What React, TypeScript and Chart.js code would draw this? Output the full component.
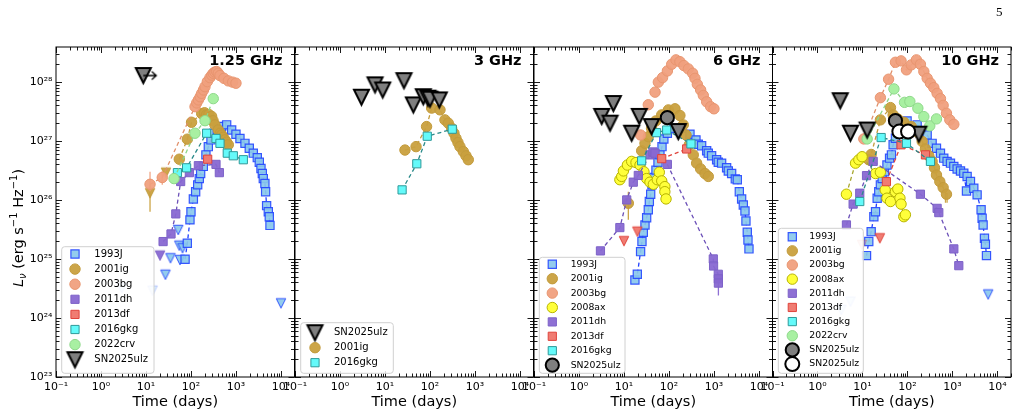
import React, { useEffect, useRef } from 'react';
import { Chart, registerables } from 'chart.js';

Chart.register(...registerables);

type P = [number, number];
type E = [number, number, number]; // time, lower, upper

// ================= DATA (time in days, L_nu in erg/s/Hz) =================
// ---- 1.25 GHz ----
const f125_1993J: P[] = [[74,9.9e24],[83,1.84e25],[95,4.6e25],[100,6.3e25],[113,1.04e26],[127,1.38e26],[141,1.8e26],[153,2.3e26],[164,2.8e26],[188,3.7e26],[215,5.8e26],[243,8.0e26],[278,1.04e27],[324,1.35e27],[385,1.53e27],[480,1.75e27],[621,1.87e27],[802,1.53e27],[1000,1.3e27],[1227,1.1e27],[1585,9.1e26],[1977,7.5e26],[2427,6.2e26],[2978,5.2e26],[3300,4.35e26],[3597,3.4e26],[3850,2.8e26],[4050,2.3e26],[4400,1.9e26],[4560,1.38e26],[4800,8.0e25],[5230,6.3e25],[5500,5.2e25],[5700,3.7e25]];
const f125_1993J_ul: P[] = [[52,3.1e25],[55,1.68e25],[65,1.52e25],[35,1.03e25],[57,9.6e24],[27,5.4e24],[10000,1.77e24]];
const f125_1993J_ulFaded: P[] = [[2.9,3.2e24],[14,2.9e24]];
const f125_2001ig: P[] = [[55,4.9e26],[83,1.07e27],[103,2.07e27],[173,2.9e27],[200,3.0e27],[223,2.76e27],[250,2.8e27],[288,2.6e27],[310,2.2e27],[341,1.87e27],[405,1.53e27],[450,1.35e27],[480,1.26e27],[520,1.15e27],[570,1.04e27],[620,9.5e26],[676,8.6e26]];
const f125_2001ig_ul: P[] = [[12.3,1.3e26],[27.8,2.9e26]];
const f125_2001ig_err: E[] = [[12.3,6.3e25,1.8e26]];
const f125_2003bg: P[] = [[12.3,1.84e26],[23,2.4e26],[123,3.8e27],[134,4.4e27],[146,4.95e27],[160,5.6e27],[173,6.4e27],[190,7.3e27],[205,8.3e27],[231,1.01e28],[264,1.18e28],[290,1.3e28],[313,1.4e28],[340,1.47e28],[372,1.5e28],[405,1.4e28],[441,1.28e28],[541,1.15e28],[676,1.04e28],[843,9.9e27],[1000,9.5e27]];
const f125_2003bg_err: E[] = [[12.3,1.4e26,3.0e26],[23,1.8e26,3.1e26]];
const f125_2011dh: P[] = [[24,1.97e25],[36,2.65e25],[46,5.8e25],[59,2.05e26],[92,2.9e26],[146,3.8e26],[360,4.0e26],[427,2.9e26]];
const f125_2011dh_ul: P[] = [[20.5,1.14e25]];
const f125_2013df: P[] = [[235,4.9e26]];
const f125_2016gkg: P[] = [[50,2.9e26],[80,3.5e26],[223,1.35e27],[360,1.1e27],[441,9.1e26],[641,6.2e26],[873,5.6e26],[1456,4.8e26]];
const f125_2022crv: P[] = [[42,2.3e26],[123,1.35e27],[205,2.2e27],[313,5.2e27]];
const f125_2025ulz_ul: P[] = [[8.7,1.28e28]];

// ---- 3 GHz ----
const f3_2025ulz_ul: P[] = [[3.0,5.5e27],[6.0,8.9e27],[8.9,7.3e27],[26.4,1.05e28],[42.7,4.07e27],[71,5.6e27],[90,5.3e27],[100,5.1e27],[161,4.95e27]];
const f3_2001ig: P[] = [[27.8,7.0e26],[49,8.0e26],[84,1.75e27],[109,3.6e27],[167,3.36e27],[215,2.27e27],[255,2.0e27],[303,1.64e27],[341,1.35e27],[378,1.11e27],[419,9.4e26],[464,8.0e26],[551,6.6e26],[631,5.6e26],[711,4.8e26]];
const f3_2016gkg: P[] = [[24,1.48e26],[51,4.1e26],[87,1.2e27],[313,1.58e27]];

// ---- 6 GHz ----
const f6_1993J: P[] = [[17.5,4.4e24],[19.8,5.5e24],[23.4,1.33e25],[25.1,1.97e25],[26.9,2.83e25],[29.3,3.77e25],[31.9,5.0e25],[34.7,6.8e25],[36.6,9.4e25],[39.2,1.25e26],[41.9,1.8e26],[46.4,2.4e26],[51.4,3.2e26],[57,4.35e26],[63,5.8e26],[70,8.0e26],[77,1.08e27],[92,1.35e27],[129,1.64e27],[191,1.64e27],[293,1.3e27],[398,1.04e27],[449,8.8e26],[532,8.3e26],[688,6.8e26],[748,6.2e26],[887,5.6e26],[1146,4.8e26],[1247,4.35e26],[1480,4.2e26],[1910,3.5e26],[2084,3.1e26],[2470,2.8e26],[2980,2.27e26],[3300,2.2e26],[3660,1.38e26],[4120,1.04e26],[4490,8.2e25],[4890,6.5e25],[5140,4.4e25],[5500,2.83e25],[5700,2.1e25],[6000,1.48e25]];
const f6_2001ig: P[] = [[12.5,8.8e25],[24.7,6.8e26],[29.3,9.1e26],[34.7,1.18e27],[41,1.64e27],[51,2.18e27],[69,2.76e27],[97,3.35e27],[136,3.5e27],[175,2.7e27],[208,1.87e27],[239,1.26e27],[283,8.6e26],[347,5.8e26],[412,4.2e26],[506,3.35e26],[631,2.8e26],[748,2.5e26]];
const f6_2001ig_err: E[] = [[12.5,4.6e25,1.38e26]];
const f6_2003bg: P[] = [[23.4,1.26e27],[34.7,4.1e27],[49,6.7e27],[58,9.9e27],[72,1.18e28],[92,1.53e28],[115,1.99e28],[143,2.36e28],[175,2.2e28],[215,1.89e28],[269,1.66e28],[336,1.4e28],[378,1.15e28],[427,9.1e27],[506,7.3e27],[580,5.9e27],[688,4.6e27],[843,3.8e27],[1000,3.5e27]];
const f6_2008ax: P[] = [[8.1,2.2e26],[8.9,2.5e26],[9.7,3.1e26],[11.9,3.9e26],[14.8,4.5e26],[18.5,4.3e26],[22.7,3.9e26],[27.8,3.0e26],[31.9,2.3e26],[37.8,2.0e26],[44.9,1.84e26],[55,2.2e26],[61,2.95e26],[69,2.1e26],[81,1.68e26],[81,1.38e26],[86,1.04e26]];
const f6_2011dh: P[] = [[3.0,1.37e25],[8.1,3.4e25],[11.5,1.0e26],[16.1,2.0e26],[20.8,2.6e26],[37.8,5.8e26],[44,6.5e26],[49,6.2e26],[92,4.0e26],[966,1.0e25],[980,7.6e24],[1247,5.5e24],[1250,4.6e24],[1255,3.9e24]];
const f6_2011dh_err: E[] = [[1255,2.4e24,5.4e24]];
const f6_2013df: P[] = [[69,5.0e26],[247,7.3e26]];
const f6_2013df_ul: P[] = [[10,2.0e25],[19.8,2.9e25]];
const f6_2016gkg: P[] = [[24.7,4.6e26],[53,1.38e27],[89,1.53e27],[308,8.9e26]];
const f6_2025ulz_ul: P[] = [[3.2,2.6e27],[5.8,4.3e27],[4.9,2.0e27],[21.9,2.6e27],[14.8,1.35e27],[41,1.75e27],[161,1.44e27]];
const f6_2025ulz: P[] = [[92,2.48e27]];

// ---- 10 GHz ----
const f10_1993J: P[] = [[12.3,1.14e25],[13.8,1.97e25],[15.6,2.9e25],[17.9,5.2e25],[19.5,6.3e25],[21.2,1.07e26],[23,1.38e26],[25,1.8e26],[27.4,2.3e26],[30.8,3.0e26],[35,3.9e26],[40,5.1e26],[44,5.8e26],[48,8.6e26],[54,1.11e27],[64,1.64e27],[98,2.18e27],[164,1.87e27],[274,1.26e27],[353,9.1e26],[441,7.5e26],[541,6.2e26],[641,5.1e26],[760,4.5e26],[903,4.2e26],[1072,3.7e26],[1270,3.35e26],[1507,3.1e26],[1786,2.83e26],[2048,1.42e26],[2118,2.5e26],[2512,2.05e26],[2978,1.58e26],[3530,1.22e26],[4330,6.8e25],[4560,4.9e25],[4800,3.77e25],[5140,2.24e25],[5400,1.77e25],[5700,1.14e25]];
const f10_1993J_ul: P[] = [[6210,2.5e24]];
const f10_1993J_ulFaded: P[] = [[5.4,1.89e24],[3.4,1.37e24]];
const f10_2001ig: P[] = [[13.8,4.8e26],[15.6,5.9e26],[25,2.27e27],[41.9,3.67e27],[48,2.76e27],[61,2.36e27],[83,2.07e27],[121,1.75e27],[170,1.4e27],[212,9.8e26],[251,7.3e26],[298,5.6e26],[353,4.5e26],[398,3.5e26],[441,2.65e26],[523,2.05e26],[621,1.62e26],[736,1.25e26]];
const f10_2001ig_err: E[] = [[700,9.0e25,1.3e26],[760,9.0e25,1.3e26]];
const f10_2003bg: P[] = [[10.7,1.08e27],[25,5.4e27],[38,1.11e28],[54,2.15e28],[72,2.27e28],[95,1.6e28],[121,1.94e28],[158,2.36e28],[194,1.99e28],[231,1.5e28],[274,1.15e28],[324,9.5e27],[385,8.0e27],[456,6.4e27],[541,5.2e27],[621,4.0e27],[736,2.94e27],[873,2.27e27],[1072,1.91e27]];
const f10_2008ax: P[] = [[4.4,1.25e26],[7.0,4.2e26],[8.3,4.8e26],[9.8,5.4e26],[19.5,2.8e26],[25,2.95e26],[32,1.48e26],[35,1.07e26],[42,9.4e25],[54,1.38e26],[61,1.53e26],[68,1.07e26],[72,8.5e25],[83,5.2e25],[90,5.6e25]];
const f10_2011dh: P[] = [[4.4,3.77e25],[6.2,8.5e25],[8.7,1.3e26],[12.3,2.58e26],[17.3,4.5e26],[194,1.25e26],[456,7.2e25],[497,6.1e25],[1072,1.48e25],[1383,7.7e24]];
const f10_2013df: P[] = [[34,2.04e26],[72,8.6e26],[251,5.8e26]];
const f10_2013df_ul: P[] = [[24.3,2.24e25]];
const f10_2013df_ulFaded: P[] = [[9.8,1.73e25]];
const f10_2016gkg: P[] = [[8.7,9.4e25],[26,1.14e27],[95,9.1e26],[324,4.5e26]];
const f10_2022crv: P[] = [[12.7,1.08e27],[50,7.6e27],[86,4.5e27],[113,4.65e27],[170,3.58e27],[231,2.58e27],[313,1.8e27],[441,2.36e27]];
const f10_2025ulz_ul: P[] = [[3.2,4.8e27],[5.4,1.35e27],[12.7,1.53e27],[179,1.3e27]];
const f10_2025ulz: P[] = [[54,2.2e27]];
const f10_2025ulz_b: P[] = [[66,1.44e27],[103,1.44e27]];

// ---- axes ----
const X_TICKS = [0.1, 1, 10, 100, 1000, 10000];
const Y_TICKS = [1e23, 1e24, 1e25, 1e26, 1e27, 1e28];
const X_MIN = 0.1, X_MAX = 2e4, Y_MIN = 1e23, Y_MAX = 3.9e28;
const BAND_LABELS = ['1.25 GHz', '3 GHz', '6 GHz', '10 GHz'];

// ================= STYLE / LAYOUT =================
const FONT = "'DejaVu Sans', 'Noto Sans', sans-serif";
const SUP: Record<string, string> = { '0': '⁰', '1': '¹', '2': '²', '3': '³', '4': '⁴', '5': '⁵', '6': '⁶', '7': '⁷', '8': '⁸', '9': '⁹', '-': '⁻' };
const pow10 = (v: number) => '10' + String(Math.round(Math.log10(v))).split('').map((c) => SUP[c]).join('');

type Sty = { shape: 'rect' | 'circle'; fill: string; edge: string; bw: number; r: number; line?: string };
const ST: Record<string, Sty> = {
  J93: { shape: 'rect', fill: 'rgba(138,200,236,0.92)', edge: 'rgba(35,70,255,0.9)', bw: 1.2, r: 5.8, line: '#2040ff' },
  IG01: { shape: 'circle', fill: 'rgba(201,160,62,0.95)', edge: '#c29a3a', bw: 1, r: 5.2, line: '#c49c3c' },
  BG03: { shape: 'circle', fill: 'rgba(240,160,126,0.95)', edge: '#e8956f', bw: 1, r: 5.2, line: '#e0906a' },
  AX08: { shape: 'circle', fill: '#ffff3a', edge: '#b8b400', bw: 1, r: 5.2, line: '#a8a832' },
  DH11: { shape: 'rect', fill: 'rgba(136,104,210,0.95)', edge: '#7d62c8', bw: 1, r: 5.8, line: '#6c50b8' },
  DF13: { shape: 'rect', fill: '#f07c72', edge: '#e0443c', bw: 1, r: 5.8, line: '#e0443c' },
  GKG16: { shape: 'rect', fill: '#64fafa', edge: '#2f9a9a', bw: 1, r: 5.8, line: '#2a8a8a' },
  CRV22: { shape: 'circle', fill: '#a8f0a2', edge: '#8ed88a', bw: 1, r: 5.2, line: '#8cd688' },
  ULZ: { shape: 'circle', fill: '#7f7f7f', edge: '#000000', bw: 2, r: 6.6 },
  ULZ2: { shape: 'circle', fill: '#ffffff', edge: '#000000', bw: 2, r: 7 },
};

const imgCache: Record<string, HTMLCanvasElement> = {};
function triImg(key: string, size: number, fill: string, edge: string, bw: number, alpha = 1) {
  const k = key + alpha;
  if (imgCache[k]) return imgCache[k];
  const pad = bw * 2 + 1;
  const c = document.createElement('canvas');
  const w = Math.ceil(size + 2 * pad);
  c.width = w; c.height = w;
  const g = c.getContext('2d')!;
  g.globalAlpha = alpha;
  const cx = w / 2, cy = w / 2, h = size / 2;
  g.beginPath();
  g.moveTo(cx - h, cy - h); g.lineTo(cx + h, cy - h); g.lineTo(cx, cy + h); g.closePath();
  g.fillStyle = fill; g.fill();
  g.lineWidth = bw; g.strokeStyle = edge; g.stroke();
  imgCache[k] = c;
  return c;
}
function arrowImg() {
  if (imgCache.arrow) return imgCache.arrow;
  const c = document.createElement('canvas');
  c.width = 30; c.height = 12;
  const g = c.getContext('2d')!;
  g.strokeStyle = '#000'; g.lineWidth = 1.3;
  g.beginPath();
  g.moveTo(15, 6); g.lineTo(28, 6);
  g.moveTo(23.5, 2); g.lineTo(28, 6); g.lineTo(23.5, 10);
  g.stroke();
  imgCache.arrow = c;
  return c;
}
const smallTri = (s: Sty, alpha = 1) => triImg(s.fill, 9.5, s.fill, s.edge, 1, alpha);
const bigTri = () => triImg('ulzBig', 15, '#7f7f7f', '#000000', 2);

const xy = (pts: P[]) => pts.slice().sort((a, b) => a[0] - b[0]).map(([x, y]) => ({ x, y }));

function det(pts: P[], s: Sty, order: number, line = true) {
  return {
    data: xy(pts), order,
    showLine: line && !!s.line,
    borderColor: s.line || 'rgba(0,0,0,0)', borderWidth: 1.3, borderDash: [4, 3],
    pointStyle: s.shape, pointRadius: s.r, pointHoverRadius: s.r,
    pointBackgroundColor: s.fill, pointBorderColor: s.edge, pointBorderWidth: s.bw,
  };
}
function ul(pts: P[], img: HTMLCanvasElement, order: number) {
  return { data: xy(pts), order, showLine: false, pointStyle: img, pointRadius: 5, pointHoverRadius: 5 };
}
function errs(list: E[], s: Sty, order: number) {
  return list.map(([t, lo, hi]) => ({
    data: [{ x: t, y: lo }, { x: t, y: hi }], order: order + 0.01,
    showLine: true, borderColor: s.fill, borderWidth: 1.3, pointRadius: 0, pointHoverRadius: 0,
  }));
}

type LegItem = { text: string; sty?: Sty; img?: () => HTMLCanvasElement };
type Leg = { x: number; y: number; w: number; h: number; row0: number; step: number; mx: number; tx: number; font: number; items: LegItem[] };

const PANEL_LEFT = [56, 295, 534, 772.5];
const PANEL_W = 238.5;
const TOP = 47, BOTTOM = 377, H = 417;
const CANVAS = [{ left: 0, width: 317 }, { left: 271, width: 286 }, { left: 510, width: 286 }, { left: 748, width: 279 }];

const LEGENDS: Leg[] = [
  { x: 61.7, y: 246.7, w: 92.3, h: 126.6, row0: 254, step: 15.1, mx: 75, tx: 94.3, font: 10, items: [
    { text: '1993J', sty: ST.J93 }, { text: '2001ig', sty: ST.IG01 }, { text: '2003bg', sty: ST.BG03 }, { text: '2011dh', sty: ST.DH11 },
    { text: '2013df', sty: ST.DF13 }, { text: '2016gkg', sty: ST.GKG16 }, { text: '2022crv', sty: ST.CRV22 }, { text: 'SN2025ulz', img: bigTri }] },
  { x: 300.7, y: 322.7, w: 92.6, h: 50.6, row0: 332.7, step: 15, mx: 315, tx: 334, font: 10, items: [
    { text: 'SN2025ulz', img: bigTri }, { text: '2001ig', sty: ST.IG01 }, { text: '2016gkg', sty: ST.GKG16 }] },
  { x: 539.3, y: 257.3, w: 85.7, h: 116, row0: 264.3, step: 14.4, mx: 552.3, tx: 570.7, font: 9.3, items: [
    { text: '1993J', sty: ST.J93 }, { text: '2001ig', sty: ST.IG01 }, { text: '2003bg', sty: ST.BG03 }, { text: '2008ax', sty: ST.AX08 },
    { text: '2011dh', sty: ST.DH11 }, { text: '2013df', sty: ST.DF13 }, { text: '2016gkg', sty: ST.GKG16 }, { text: 'SN2025ulz', sty: ST.ULZ }] },
  { x: 778.3, y: 228.3, w: 85, h: 145, row0: 236.7, step: 14.15, mx: 792.3, tx: 809.3, font: 9.3, items: [
    { text: '1993J', sty: ST.J93 }, { text: '2001ig', sty: ST.IG01 }, { text: '2003bg', sty: ST.BG03 }, { text: '2008ax', sty: ST.AX08 },
    { text: '2011dh', sty: ST.DH11 }, { text: '2013df', sty: ST.DF13 }, { text: '2016gkg', sty: ST.GKG16 }, { text: '2022crv', sty: ST.CRV22 },
    { text: 'SN2025ulz', sty: ST.ULZ }, { text: 'SN2025ulz', sty: ST.ULZ2 }] },
];

function datasetsFor(i: number): any[] {
  if (i === 0) return [
    ul(f125_2025ulz_ul, arrowImg(), 0),
    ul(f125_2025ulz_ul, bigTri(), 1),
    det(f125_2022crv, ST.CRV22, 2),
    det(f125_2016gkg, ST.GKG16, 3),
    det(f125_2013df, ST.DF13, 4, false),
    det(f125_2011dh, ST.DH11, 5), ul(f125_2011dh_ul, smallTri(ST.DH11), 5),
    det(f125_2003bg, ST.BG03, 7), ...errs(f125_2003bg_err, ST.BG03, 7),
    det(f125_2001ig, ST.IG01, 8), ul(f125_2001ig_ul, smallTri(ST.IG01), 8), ...errs(f125_2001ig_err, ST.IG01, 8),
    det(f125_1993J, ST.J93, 9), ul(f125_1993J_ul, smallTri(ST.J93), 9), ul(f125_1993J_ulFaded, smallTri(ST.J93, 0.3), 9),
  ];
  if (i === 1) return [
    ul(f3_2025ulz_ul, bigTri(), 1),
    det(f3_2016gkg, ST.GKG16, 3),
    det(f3_2001ig, ST.IG01, 8),
  ];
  if (i === 2) return [
    det(f6_2025ulz, ST.ULZ, 0, false),
    ul(f6_2025ulz_ul, bigTri(), 1),
    det(f6_2016gkg, ST.GKG16, 3),
    det(f6_2013df, ST.DF13, 4), ul(f6_2013df_ul, smallTri(ST.DF13), 4),
    det(f6_2011dh, ST.DH11, 5), ...errs(f6_2011dh_err, ST.DH11, 5),
    det(f6_2008ax, ST.AX08, 6, false),
    det(f6_2003bg, ST.BG03, 7, false),
    det(f6_2001ig, ST.IG01, 8, false), ...errs(f6_2001ig_err, ST.IG01, 8),
    det(f6_1993J, ST.J93, 9),
  ];
  return [
    det(f10_2025ulz_b, ST.ULZ2, 0, false),
    det(f10_2025ulz, ST.ULZ, 0.5, false),
    ul(f10_2025ulz_ul, bigTri(), 1),
    det(f10_2022crv, ST.CRV22, 2),
    det(f10_2016gkg, ST.GKG16, 3),
    det(f10_2013df, ST.DF13, 4), ul(f10_2013df_ul, smallTri(ST.DF13), 4), ul(f10_2013df_ulFaded, smallTri(ST.DF13, 0.3), 4),
    det(f10_2011dh, ST.DH11, 5),
    det(f10_2008ax, ST.AX08, 6),
    det(f10_2003bg, ST.BG03, 7),
    det(f10_2001ig, ST.IG01, 8), ...errs(f10_2001ig_err, ST.IG01, 8),
    det(f10_1993J, ST.J93, 9), ul(f10_1993J_ul, smallTri(ST.J93), 9), ul(f10_1993J_ulFaded, smallTri(ST.J93, 0.3), 9),
  ];
}

function drawMarker(ctx: CanvasRenderingContext2D, it: LegItem, x: number, y: number) {
  if (it.img) {
    const im = it.img();
    ctx.drawImage(im, x - im.width / 2, y - im.height / 2);
    return;
  }
  const s = it.sty!;
  ctx.beginPath();
  if (s.shape === 'rect') {
    const h = s.r * Math.SQRT1_2;
    ctx.rect(x - h, y - h, 2 * h, 2 * h);
  } else {
    ctx.arc(x, y, s.r, 0, Math.PI * 2);
  }
  ctx.fillStyle = s.fill; ctx.fill();
  ctx.lineWidth = s.bw; ctx.strokeStyle = s.edge; ctx.stroke();
}

function makeDecor(i: number) {
  const off = CANVAS[i].left;
  return {
    id: 'decor' + i,
    afterDraw(chart: any) {
      const { ctx, chartArea: a } = chart;
      const xs = chart.scales.x, ys = chart.scales.y;
      ctx.save();
      // inward ticks on all four sides
      ctx.strokeStyle = '#000';
      ctx.lineWidth = 0.9;
      ctx.beginPath();
      for (let e = -1; e <= 4; e++) for (let k = 1; k <= 9; k++) {
        const v = k * Math.pow(10, e);
        if (v < X_MIN * 0.999 || v > X_MAX * 1.001) continue;
        const px = Math.round(xs.getPixelForValue(v)) + 0.5;
        const len = k === 1 ? 6 : 3.5;
        ctx.moveTo(px, a.bottom); ctx.lineTo(px, a.bottom - len);
        ctx.moveTo(px, a.top); ctx.lineTo(px, a.top + len);
      }
      for (let e = 23; e <= 28; e++) for (let k = 1; k <= 9; k++) {
        const v = k * Math.pow(10, e);
        if (v < Y_MIN * 0.999 || v > Y_MAX * 1.001) continue;
        const py = Math.round(ys.getPixelForValue(v)) + 0.5;
        const len = k === 1 ? 6 : 3.5;
        ctx.moveTo(a.left, py); ctx.lineTo(a.left + len, py);
        ctx.moveTo(a.right, py); ctx.lineTo(a.right - len, py);
      }
      ctx.stroke();
      ctx.lineWidth = 1;
      ctx.strokeRect(a.left, a.top, a.right - a.left, a.bottom - a.top);

      // band label
      ctx.fillStyle = '#000';
      ctx.font = `bold 14.5px ${FONT}`;
      ctx.textAlign = 'right';
      ctx.textBaseline = 'middle';
      ctx.fillText(BAND_LABELS[i], a.right - 12, a.top + 14);

      // x title
      ctx.font = `14.5px ${FONT}`;
      ctx.textAlign = 'center';
      ctx.fillText('Time (days)', (a.left + a.right) / 2, 402);

      // y title (first panel only)
      if (i === 0) {
        ctx.save();
        ctx.translate(17.5, 228);
        ctx.rotate(-Math.PI / 2);
        const parts: [string, string, number][] = [
          ['L', `italic 14.5px ${FONT}`, 0], ['ν', `italic 10px ${FONT}`, 3],
          [' (erg s', `14.5px ${FONT}`, 0], ['−1', `10px ${FONT}`, -5.5],
          [' Hz', `14.5px ${FONT}`, 0], ['−1', `10px ${FONT}`, -5.5], [')', `14.5px ${FONT}`, 0],
        ];
        let total = 0;
        for (const [t, f] of parts) { ctx.font = f; total += ctx.measureText(t).width; }
        let cx = -total / 2;
        ctx.textAlign = 'left';
        ctx.textBaseline = 'alphabetic';
        for (const [t, f, dy] of parts) { ctx.font = f; ctx.fillText(t, cx, 5 + dy); cx += ctx.measureText(t).width; }
        ctx.restore();
      }

      // legend
      const L = LEGENDS[i];
      const bx = L.x - off, by = L.y;
      ctx.beginPath();
      (ctx as any).roundRect ? (ctx as any).roundRect(bx, by, L.w, L.h, 3) : ctx.rect(bx, by, L.w, L.h);
      ctx.fillStyle = 'rgba(255,255,255,0.85)';
      ctx.fill();
      ctx.lineWidth = 1;
      ctx.strokeStyle = '#d0d0d0';
      ctx.stroke();
      L.items.forEach((it, j) => {
        const y = L.row0 + j * L.step;
        drawMarker(ctx, it, L.mx - off, y);
        ctx.fillStyle = '#000';
        ctx.font = `${L.font}px ${FONT}`;
        ctx.textAlign = 'left';
        ctx.textBaseline = 'middle';
        ctx.fillText(it.text, L.tx - off, y);
      });
      ctx.restore();
    },
  };
}

function buildConfig(i: number): any {
  const c = CANVAS[i];
  const padL = i === 0 ? 0 : PANEL_LEFT[i] - c.left;
  const padR = c.width - (PANEL_LEFT[i] - c.left) - PANEL_W;
  return {
    type: 'scatter',
    data: { datasets: datasetsFor(i) },
    options: {
      animation: false,
      responsive: false,
      maintainAspectRatio: false,
      devicePixelRatio: 1,
      events: [],
      layout: { padding: { left: padL, right: padR, top: TOP, bottom: 0 } },
      plugins: { legend: { display: false }, tooltip: { enabled: false }, title: { display: false } },
      scales: {
        x: {
          type: 'logarithmic', position: 'bottom', min: X_MIN, max: X_MAX,
          grid: { display: false, drawTicks: false }, border: { display: false },
          ticks: { autoSkip: false, maxRotation: 0, minRotation: 0, padding: 3.5, color: '#000', font: { family: FONT, size: 11 }, callback: (v: any) => pow10(Number(v)) },
          afterBuildTicks: (s: any) => { s.ticks = X_TICKS.map((v) => ({ value: v })); },
          afterFit: (s: any) => { s.height = H - BOTTOM; },
        },
        y: {
          type: 'logarithmic', position: 'left', min: Y_MIN, max: Y_MAX, display: i === 0,
          grid: { display: false, drawTicks: false }, border: { display: false },
          ticks: { autoSkip: false, padding: 3.5, color: '#000', font: { family: FONT, size: 11 }, callback: (v: any) => pow10(Number(v)) },
          afterBuildTicks: (s: any) => { s.ticks = Y_TICKS.map((v) => ({ value: v })); },
          afterFit: (s: any) => { s.width = i === 0 ? PANEL_LEFT[0] : 0; },
        },
      },
    },
    plugins: [makeDecor(i)],
  };
}

function Panel({ i }: { i: number }) {
  const ref = useRef<HTMLCanvasElement>(null);
  useEffect(() => {
    const chart = new Chart(ref.current!, buildConfig(i));
    return () => chart.destroy();
  }, [i]);
  const c = CANVAS[i];
  return (
    <canvas ref={ref} width={c.width} height={H}
      style={{ position: 'absolute', left: c.left, top: 0, width: c.width, height: H }} />
  );
}

export default function App() {
  return (
    <div style={{ position: 'fixed', left: 0, top: 0, width: 1027, height: 417, overflow: 'hidden', background: '#fff' }}>
      {[0, 1, 2, 3].map((i) => <Panel key={i} i={i} />)}
      <div style={{ position: 'absolute', left: 996, top: 4, fontFamily: "'Liberation Serif', 'DejaVu Serif', serif", fontSize: 13, color: '#000' }}>5</div>
    </div>
  );
}
